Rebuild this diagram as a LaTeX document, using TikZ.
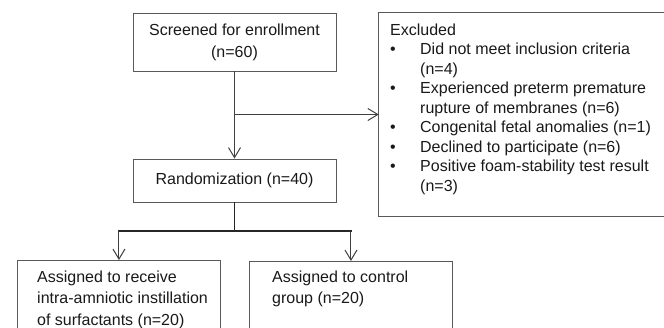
\documentclass[tikz,border=0pt]{standalone}
\usepackage{fontspec}
\setmainfont{Liberation Sans}
\usetikzlibrary{arrows.meta,fit}
\begin{document}
\begin{tikzpicture}[x=1pt,y=1pt,
  box/.style={draw=black!65, line width=0.9pt, rectangle, inner sep=0pt},
  boxline/.style={draw=black!65, line width=0.9pt},
  conn/.style={draw=black!75, line width=1pt},
  thickconn/.style={draw=black!85, line width=1.8pt},
  arr/.style={conn, -{Straight Barb[length=10pt,width=12pt]}},
  txt/.style={text=black!90, font=\fontsize{16}{22}\selectfont},
  ltxt/.style={text=black!90, inner sep=0pt, anchor=north west}]
\useasboundingbox (0,0) rectangle (664,-327);
\begin{scope}
\clip (0,0) rectangle (664,-327);
% top boxes
\node[box, txt, minimum width=203, minimum height=58, align=center] (screen) at (234.5,-42) {Screened for enrollment\\(n=60)};
\node[box, txt, minimum width=203, minimum height=43] (rand) at (234.5,-180.5) {Randomization (n=40)};
% excluded box (open at the right: it runs off the picture)
\coordinate (exnw) at (379,-13);
\coordinate (exse) at (700,-216);
\node[fit=(exnw)(exse), inner sep=0pt] (exbox) {};
\draw[boxline] (exbox.north east) -- (exbox.north west) -- (exbox.south west) -- (exbox.south east);
\node[ltxt] (extext) at (390,-21.35) {\fontsize{16}{19.5}\selectfont
\begin{tabular}{@{}p{30pt}@{}l@{}}
\multicolumn{2}{@{}l@{}}{Excluded}\\
\textbullet & Did not meet inclusion criteria\\
 & (n=4)\\
\textbullet & Experienced preterm premature\\
 & rupture of membranes (n=6)\\
\textbullet & Congenital fetal anomalies (n=1)\\
\textbullet & Declined to participate (n=6)\\
\textbullet & Positive foam-stability test result\\
 & (n=3)
\end{tabular}};
% bottom boxes
\node[box, anchor=north west, minimum width=203, minimum height=100] (lbox) at (17,-260) {};
\node[ltxt] (ltext) at (37,-266.95) {\fontsize{16}{21.5}\selectfont
\begin{tabular}{@{}l@{}}
Assigned to receive\\
intra-amniotic instillation\\
of surfactants (n=20)
\end{tabular}};
\node[box, anchor=north west, minimum width=203, minimum height=100] (rbox) at (249,-261) {};
\node[ltxt] (rtext) at (272,-266.95) {\fontsize{16}{21.5}\selectfont
\begin{tabular}{@{}l@{}}
Assigned to control\\
group (n=20)
\end{tabular}};
% connectors
\draw[arr] (screen.south) -- (rand.north);
\draw[arr] (screen.south |- exbox.west) -- (exbox.west);
\coordinate (split) at (234.5,-231);
\draw[thickconn] (rand.south) -- (split);
\draw[thickconn, line cap=rect] (lbox.north |- split) -- (rbox.north |- split);
\draw[arr] (lbox.north |- split) -- (lbox.north);
\draw[arr] (rbox.north |- split) -- (rbox.north);
\end{scope}
\end{tikzpicture}
\end{document}
